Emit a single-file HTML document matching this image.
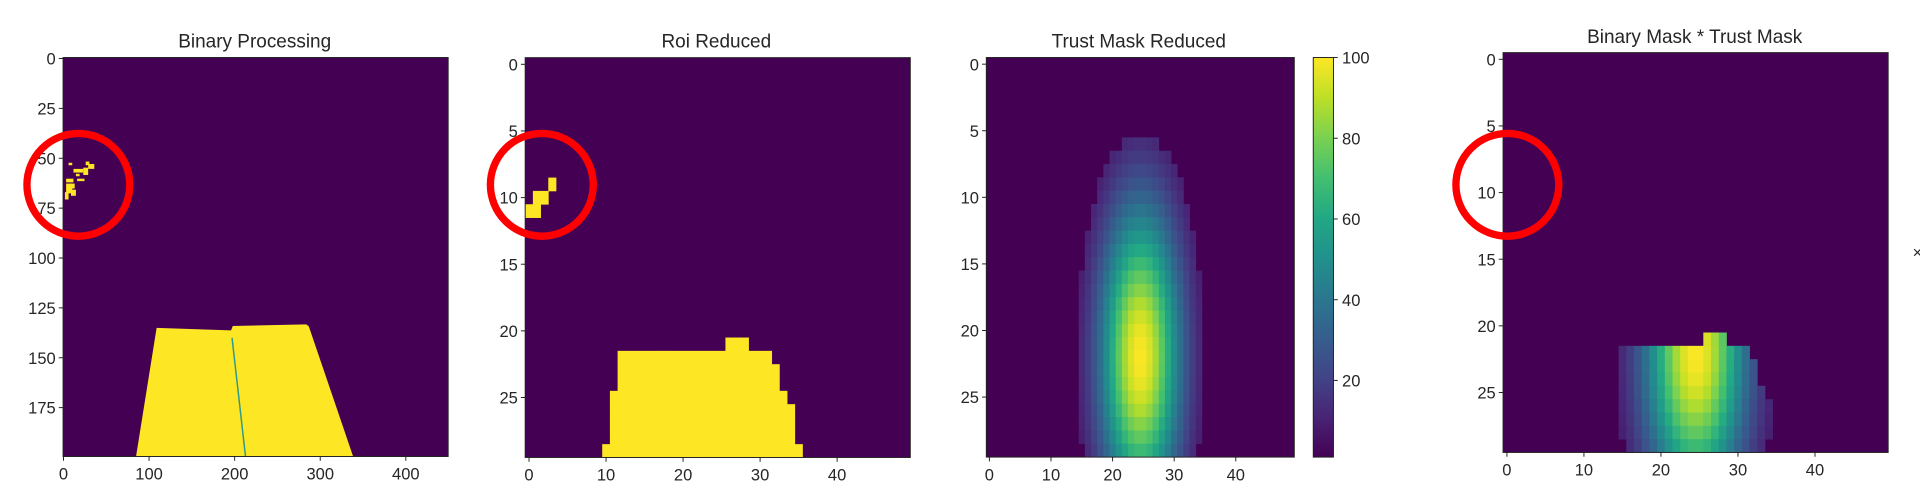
<!DOCTYPE html>
<html><head><meta charset="utf-8"><style>
html,body{margin:0;padding:0;background:#fff;}
svg{display:block;}
text{font-family:"Liberation Sans",sans-serif;fill:#262626;}
.t{font-size:13.5px;}
.ti{font-size:15.5px;}
</style></head><body>
<svg id="s" width="1920" height="503" viewBox="0 0 1568 411" preserveAspectRatio="none" xmlns="http://www.w3.org/2000/svg">
<defs>
<linearGradient id="vir" x1="0" y1="1" x2="0" y2="0">
<stop offset="0" stop-color="#440154"/><stop offset="0.1" stop-color="#482475"/><stop offset="0.2" stop-color="#414487"/><stop offset="0.3" stop-color="#355f8d"/><stop offset="0.4" stop-color="#2a788e"/><stop offset="0.5" stop-color="#21918c"/><stop offset="0.6" stop-color="#22a884"/><stop offset="0.7" stop-color="#44bf70"/><stop offset="0.8" stop-color="#7ad151"/><stop offset="0.9" stop-color="#bddf26"/><stop offset="1" stop-color="#fde725"/>
</linearGradient>
</defs>
<!-- Panel 1 -->
<text class="ti" x="208" y="39" text-anchor="middle">Binary Processing</text>
<rect x="51.5" y="47" width="314.5" height="326" fill="#440154"/>
<polygon points="127.9,267.9 188.7,269.9 190.1,266.4 250.1,265 252.2,266.7 288.4,373 111.1,373" fill="#fde725"/>
<line x1="189.5" y1="276" x2="200.5" y2="373" stroke="#2a9a8a" stroke-width="1.2"/>
<g fill="#fde725">
<rect x="56" y="133" width="3" height="2"/><rect x="60" y="138" width="8" height="3"/><rect x="62" y="142" width="3" height="2"/>
<rect x="54" y="146" width="6" height="3"/><rect x="68" y="137" width="4" height="6"/><rect x="72" y="134" width="5" height="4"/>
<rect x="54" y="150" width="5" height="8"/><rect x="58" y="155" width="4" height="5"/><rect x="63" y="146" width="6" height="2"/>
<rect x="53" y="157" width="3" height="6"/><rect x="70" y="132" width="3" height="3"/><rect x="57" y="150" width="4" height="4"/>
</g>
<rect x="51.5" y="47" width="314.5" height="326" fill="none" stroke="#222" stroke-width="0.8"/>
<!-- Panel 2 -->
<text class="ti" x="585" y="39" text-anchor="middle">Roi Reduced</text>
<rect x="428.9" y="47.1" width="314.5" height="326.7" fill="#440154"/>
<g id="p2"></g>
<rect x="428.9" y="47.1" width="314.5" height="326.7" fill="none" stroke="#222" stroke-width="0.8"/>
<!-- Panel 3 -->
<text class="ti" x="930" y="39" text-anchor="middle">Trust Mask Reduced</text>
<rect x="805.5" y="47" width="251.5" height="326.5" fill="#440154"/>
<g id="p3"></g>
<rect x="805.5" y="47" width="251.5" height="326.5" fill="none" stroke="#222" stroke-width="0.8"/>
<rect x="1072.5" y="47" width="16.5" height="326.5" fill="url(#vir)" stroke="#222" stroke-width="0.8"/>
<!-- Panel 4 -->
<text class="ti" x="1384" y="35" text-anchor="middle">Binary Mask * Trust Mask</text>
<rect x="1227.5" y="43" width="314.5" height="326.7" fill="#440154"/>
<g id="p4"></g>
<rect x="1227.5" y="43" width="314.5" height="326.7" fill="none" stroke="#222" stroke-width="0.8"/>
<g id="ticks" stroke="#222" stroke-width="0.8"></g>
<g id="labels"></g>
<text class="t" x="1562" y="211">×</text>
<!-- red circles -->
<g fill="none" stroke="#f00" stroke-width="6">
<circle cx="64" cy="151" r="42"/>
<circle cx="442.5" cy="151" r="42"/>
<circle cx="1231" cy="151" r="42"/>
</g>
</svg>
<script>
var NS="http://www.w3.org/2000/svg";
function el(p,tag,a,txt){var e=document.createElementNS(NS,tag);for(var k in a)e.setAttribute(k,a[k]);if(txt!==undefined)e.textContent=txt;p.appendChild(e);return e;}
var V=[[68,1,84],[72,36,117],[65,68,135],[53,95,141],[42,120,142],[33,145,140],[34,168,132],[68,191,112],[122,209,81],[189,223,38],[253,231,37]];
function vir(t){t=Math.max(0,Math.min(1,t));var f=t*10,i=Math.min(9,Math.floor(f)),u=f-i;var c=V[i].map(function(a,k){return Math.round(a+(V[i+1][k]-a)*u);});return "rgb("+c.join(",")+")";}
function trust(r,c){var dc=c-24.5,dr=r-22;
 if((dc/10.3)*(dc/10.3)+(dr/17)*(dr/17)>=1)return 0;
 var v=Math.exp(-dc*dc/(2*4.6*4.6)-dr*dr/(2*8*8));return Math.max(v,0.06);}
var roi={};function setR(r,a,b){for(var c=a;c<=b;c++)roi[r+","+c]=1;}
setR(9,3,3);setR(10,1,2);setR(11,0,1);
setR(21,26,28);setR(22,12,31);setR(23,12,32);setR(24,12,32);setR(25,11,33);
setR(26,11,34);setR(27,11,34);setR(28,11,34);setR(29,10,35);
var p2=document.getElementById("p2"),p3=document.getElementById("p3"),p4=document.getElementById("p4");
for(var r=0;r<30;r++)for(var c=0;c<50;c++){
 var t=trust(r,c);
 if(roi[r+","+c]){el(p2,"rect",{x:428.9+c*6.29,y:47.1+r*10.89,width:6.6,height:11.2,fill:"#fde725"});
   if(t>0)el(p4,"rect",{x:1227.5+c*6.29,y:43+r*10.89,width:6.6,height:11.2,fill:vir(t)});}
 if(t>0)el(p3,"rect",{x:805.5+c*5.03,y:47+r*10.88,width:5.3,height:11.2,fill:vir(t)});
}
var tk=document.getElementById("ticks"),lb=document.getElementById("labels");
function yt(ax,y,lab){el(tk,"line",{x1:ax-3.5,y1:y,x2:ax,y2:y});el(lb,"text",{"class":"t",x:ax-6,y:y+5,"text-anchor":"end"},lab);}
function xt(x,ay,lab){el(tk,"line",{x1:x,y1:ay,x2:x,y2:ay+3.5});el(lb,"text",{"class":"t",x:x,y:ay+19,"text-anchor":"middle"},lab);}
for(var v=0;v<=175;v+=25)yt(51.5,47+1.63*(v+0.5),""+v);
for(var v=0;v<=400;v+=100)xt(51.5+0.6989*(v+0.5),373,""+v);
for(var v=0;v<=25;v+=5)yt(428.9,47.1+10.89*(v+0.5),""+v);
for(var v=0;v<=40;v+=10)xt(428.9+6.29*(v+0.5),373.8,""+v);
for(var v=0;v<=25;v+=5)yt(805.5,47+10.88*(v+0.5),""+v);
for(var v=0;v<=40;v+=10)xt(805.5+5.03*(v+0.5),373.5,""+v);
for(var v=0;v<=25;v+=5)yt(1227.5,43+10.89*(v+0.5),""+v);
for(var v=0;v<=40;v+=10)xt(1227.5+6.29*(v+0.5),369.7,""+v);
for(var v=20;v<=100;v+=20){var y=373.5-(v-1)/99*326.5;el(tk,"line",{x1:1089,y1:y,x2:1092.5,y2:y});el(lb,"text",{"class":"t",x:1096,y:y+5},""+v);}
</script>
</body></html>
